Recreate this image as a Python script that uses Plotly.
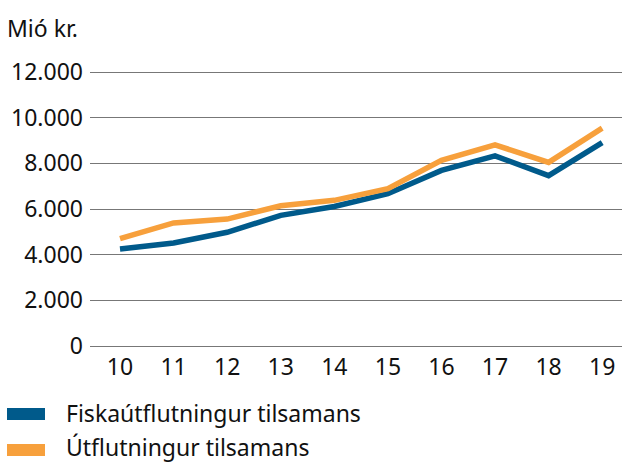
import plotly.graph_objects as go

years = [10, 11, 12, 13, 14, 15, 16, 17, 18, 19]
fisk = [4250, 4510, 4980, 5720, 6110, 6670, 7690, 8330, 7460, 8910]
utfl = [4700, 5390, 5560, 6140, 6380, 6890, 8130, 8810, 8040, 9540]
tick_vals = [0, 2000, 4000, 6000, 8000, 10000, 12000]
tick_text = ["0", "2.000", "4.000", "6.000", "8.000", "10.000", "12.000"]
names = ["Fiskaútflutningur tilsamans", "Útflutningur tilsamans"]
colors = ["#005a8b", "#f7a03c"]

FONT = "Noto Sans"
FS = 23
W, H = 622, 463
L, R = 90, 622
TOP, BOT = 62, 356   # padded so 12000 -> y=72, 0 -> y=346
pad = 10 * 12000 / 274


def px(x):
    return (x - L) / (R - L)


def py(y):
    return (BOT - y) / (BOT - TOP)


fig = go.Figure()
for name, vals, col in [(names[0], fisk, colors[0]), (names[1], utfl, colors[1])]:
    fig.add_trace(go.Scatter(x=years, y=vals, mode="lines", name=name,
                             line=dict(color=col, width=5.5),
                             showlegend=False, hoverinfo="skip"))

shapes = []
annotations = [dict(text="Mió kr.", xref="paper", yref="paper", x=px(6), y=py(28),
                    xanchor="left", yanchor="middle", showarrow=False, borderpad=0,
                    font=dict(size=FS, family=FONT, color="#111"))]
for i, (name, col) in enumerate(zip(names, colors)):
    cy = 414 + i * 36
    shapes.append(dict(type="rect", xref="paper", yref="paper", x0=px(7), x1=px(45),
                       y0=py(cy - 6), y1=py(cy + 6), fillcolor=col, line=dict(width=0)))
    annotations.append(dict(text=name, xref="paper", yref="paper", x=px(65), y=py(cy - 1 - 2 * i),
                            xanchor="left", yanchor="middle", showarrow=False, borderpad=0,
                            font=dict(size=FS, family=FONT, color="#111")))

fig.update_layout(
    width=W, height=H,
    margin=dict(l=L, r=W - R, t=TOP, b=H - BOT, autoexpand=False),
    paper_bgcolor="white", plot_bgcolor="white",
    font=dict(family=FONT, size=FS, color="#111"),
    xaxis=dict(range=[9.44, 19.37], tickmode="array", tickvals=years,
               ticktext=[str(y) for y in years], showgrid=False, zeroline=False,
               showline=False, ticks="", ticklabelstandoff=-5, fixedrange=True),
    yaxis=dict(range=[-pad, 12000 + pad], tickmode="array", tickvals=tick_vals, ticktext=tick_text,
               showgrid=True, gridcolor="#777777", gridwidth=1, zeroline=False,
               showline=False, ticks="", ticklabelstandoff=6, fixedrange=True),
    showlegend=False,
    shapes=shapes,
    annotations=annotations,
)
fig.write_html("out.html", config={"displayModeBar": False},
               post_script="document.body.style.margin='0';document.body.style.overflow='hidden';")
